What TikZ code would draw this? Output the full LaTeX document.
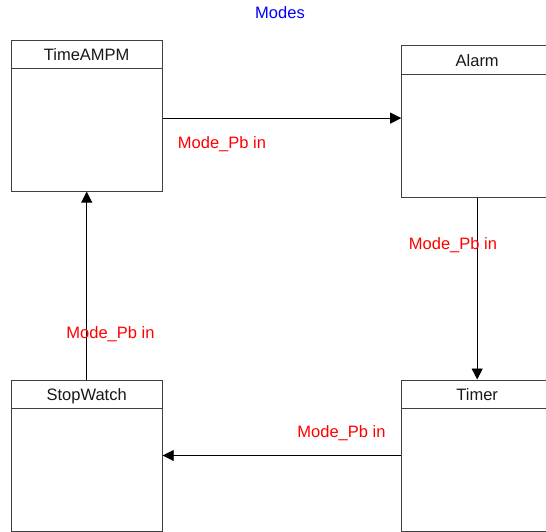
\documentclass[tikz,border=0pt]{standalone}
\usepackage{fontspec}
\setmainfont{Liberation Sans}
\usetikzlibrary{arrows.meta}
\begin{document}
\begin{tikzpicture}[x=1pt,y=-1pt,
  every node/.style={font=\fontsize{16.5}{19}\selectfont, inner sep=0pt, text height=12pt, text depth=3.5pt},
  statebox/.style={draw=black!75, line width=1pt, minimum width=151pt, minimum height=151pt, fill=white},
  headline/.style={draw=black!75, line width=1pt},
  arr/.style={line width=0.9pt, -{Triangle[length=11pt,width=11pt]}},
  lbl/.style={text=red},
  ttl/.style={text=black!90}]
\useasboundingbox (0,0) rectangle (546,532);
\clip (0,0) rectangle (546,532);
\node[text=blue] (modes) at (280,14) {Modes};
% boxes
\node[statebox] (tam) at (86.7,115.6) {};
\node[statebox] (alarm) at (477.2,121.5) {};
\node[statebox] (sw) at (86.7,455.5) {};
\node[statebox] (timer) at (477.2,455.5) {};
% header lines and titles
\foreach \b/\t in {tam/TimeAMPM, alarm/Alarm, sw/StopWatch, timer/Timer}{
  \draw[headline] ([yshift=-29pt]\b.north west) -- ([yshift=-29pt]\b.north east);
  \node[ttl] at ([yshift=-16.5pt]\b.north) {\t};
}
% connectors
\draw[arr] ([yshift=-2.5pt]tam.east) -- ([yshift=-2.5pt]tam.east -| alarm.west);
\draw[arr] (alarm.south) -- (timer.north);
\draw[arr] (timer.west) -- (sw.east);
\draw[arr] (sw.north) -- (tam.south);
% labels
\node[lbl] (l1) at (222,144.5) {Mode\_Pb in};
\node[lbl] (l2) at (453,245) {Mode\_Pb in};
\node[lbl] (l3) at (341.5,433) {Mode\_Pb in};
\node[lbl] (l4) at (110.5,334) {Mode\_Pb in};
\end{tikzpicture}
\end{document}
